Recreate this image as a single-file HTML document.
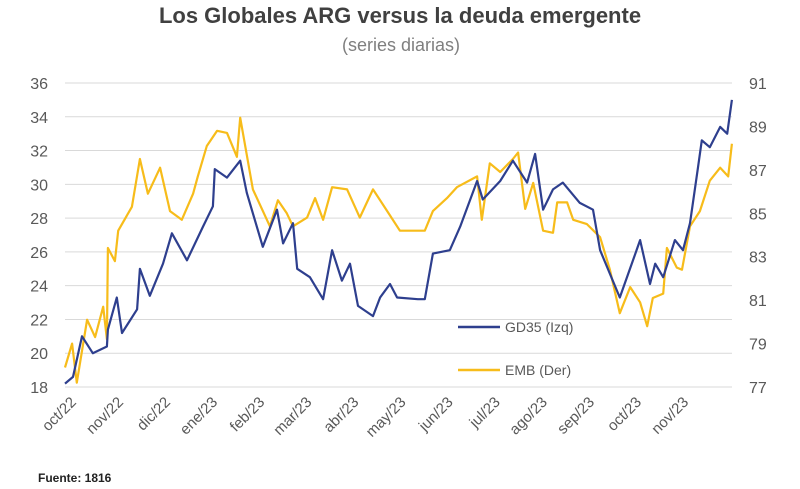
<!DOCTYPE html>
<html><head><meta charset="utf-8"><style>
body{margin:0;background:#fff;font-family:"Liberation Sans",sans-serif}
#wrap{position:relative;width:800px;height:489px;overflow:hidden}
</style></head><body>
<div id="wrap">
<svg id="chart" width="800" height="489"></svg>
</div>
<script>
const months=["oct/22","nov/22","dic/22","ene/23","feb/23","mar/23","abr/23","may/23","jun/23","jul/23","ago/23","sep/23","oct/23","nov/23"];
const leftTicks=[18,20,22,24,26,28,30,32,34,36];
const rightTicks=[77,79,81,83,85,87,89,91];
const gdT=[0,.17,.36,.59,.89,.91,1.10,1.21,1.53,1.59,1.80,2.08,2.27,2.59,2.93,3.14,3.18,3.44,3.72,3.86,4.20,4.50,4.63,4.84,4.93,5.20,5.48,5.67,5.88,6.05,6.22,6.54,6.69,6.90,7.05,7.49,7.64,7.81,8.17,8.39,8.75,8.87,9.24,9.51,9.81,9.98,10.15,10.36,10.57,10.93,11.21,11.36,11.78,12.06,12.21,12.42,12.53,12.70,12.95,13.12,13.27,13.44,13.52,13.69,13.91,14.06,14.16];
const gdV=[18.2,18.6,21.0,20.0,20.4,21.4,23.3,21.2,22.6,25.0,23.4,25.3,27.1,25.5,27.5,28.7,30.9,30.4,31.4,29.5,26.3,28.5,26.5,27.7,25.0,24.5,23.2,26.1,24.3,25.3,22.8,22.2,23.3,24.1,23.3,23.2,23.2,25.9,26.1,27.5,30.2,29.1,30.2,31.4,30.1,31.8,28.5,29.7,30.1,28.9,28.5,26.1,23.3,25.5,26.7,24.1,25.3,24.5,26.7,26.1,27.7,31.0,32.6,32.2,33.4,33.0,35.0];
const embT=[0,.15,.25,.47,.64,.81,.89,.91,1.06,1.13,1.42,1.59,1.76,2.02,2.23,2.48,2.72,2.82,3.01,3.23,3.44,3.65,3.72,3.99,4.35,4.52,4.71,4.84,5.14,5.31,5.48,5.67,5.99,6.26,6.54,6.84,7.11,7.47,7.64,7.81,8.11,8.32,8.75,8.85,9.02,9.24,9.51,9.62,9.77,9.94,10.15,10.36,10.45,10.66,10.79,11.08,11.36,11.57,11.78,12.00,12.21,12.36,12.48,12.70,12.78,12.99,13.10,13.27,13.48,13.69,13.91,14.08,14.16];
const embV=[77.9,79.0,77.2,80.1,79.3,80.7,79.2,83.4,82.8,84.2,85.3,87.5,85.9,87.1,85.1,84.7,85.9,86.7,88.1,88.8,88.7,87.6,89.4,86.1,84.4,85.6,85.0,84.4,84.8,85.7,84.7,86.2,86.1,84.8,86.1,85.1,84.2,84.2,84.2,85.1,85.7,86.2,86.7,84.7,87.3,86.9,87.5,87.8,85.2,86.4,84.2,84.1,85.5,85.5,84.7,84.5,83.9,82.4,80.4,81.6,80.9,79.8,81.1,81.3,83.4,82.5,82.4,84.4,85.1,86.5,87.1,86.7,88.2];

const NS="http://www.w3.org/2000/svg";
const svg=document.getElementById('chart');
const X0=65,PX=47.1,YT=83,YB=387;
const xS=m=>X0+m*PX;
const yL=v=>YB-(v-18)/(36-18)*(YB-YT);
const yR=v=>YB-(v-77)/(91-77)*(YB-YT);
function mk(tag,attrs,parent){const e=document.createElementNS(NS,tag);for(const k in attrs)e.setAttribute(k,attrs[k]);(parent||svg).appendChild(e);return e;}

let t=mk('text',{x:400,y:23,'text-anchor':'middle','font-size':22,'font-weight':'bold',fill:'#404040'});
t.textContent="Los Globales ARG versus la deuda emergente";


t=mk('text',{x:401,y:51,'text-anchor':'middle','font-size':18,fill:'#7f7f7f'});
t.textContent="(series diarias)";



leftTicks.forEach(v=>{
  const g=mk('line',{x1:65,x2:732,y1:yL(v),y2:yL(v),stroke:'#d9d9d9','stroke-width':1});
  
  
  const l=mk('text',{x:48,y:yL(v)+6,'text-anchor':'end','font-size':16,fill:'#595959'});
  l.textContent=v;
  
  
});
rightTicks.forEach(v=>{
  const l=mk('text',{x:749,y:yR(v)+6,'font-size':16,fill:'#595959'});
  l.textContent=v;
  
  
});
months.forEach((m,i)=>{
  const x=xS(i)+12,y=403;
  const l=mk('text',{x:x,y:y,'text-anchor':'end','font-size':15,fill:'#595959',transform:`rotate(-45 ${x} ${y})`});
  l.textContent=m;
  
  
});
function series(T,V,ys,color,name){
  const d=T.map((m,i)=>(i?'L':'M')+xS(m).toFixed(1)+' '+ys(V[i]).toFixed(1)).join(' ');
  const p=mk('path',{d:d,fill:'none',stroke:color,'stroke-width':2.2,'stroke-linejoin':'round'});
  
  
}
series(embT,embV,yR,'#f7bc1a','emb-line');
series(gdT,gdV,yL,'#2e3f8e','gd35-line');

[['GD35 (Izq)','#2e3f8e',327,'legend-gd35'],['EMB (Der)','#f7bc1a',370,'legend-emb']].forEach(a=>{
  const g=mk('g',{});
  
  
  mk('line',{x1:458,x2:500,y1:a[2],y2:a[2],stroke:a[1],'stroke-width':2.5},g);
  const l=mk('text',{x:505,y:a[2]+5,'font-size':14,fill:'#595959'},g);
  l.textContent=a[0];
});
t=mk('text',{x:38,y:482,'font-size':12,'font-weight':'bold',fill:'#222'});
t.textContent="Fuente: 1816";


</script>
</body></html>
